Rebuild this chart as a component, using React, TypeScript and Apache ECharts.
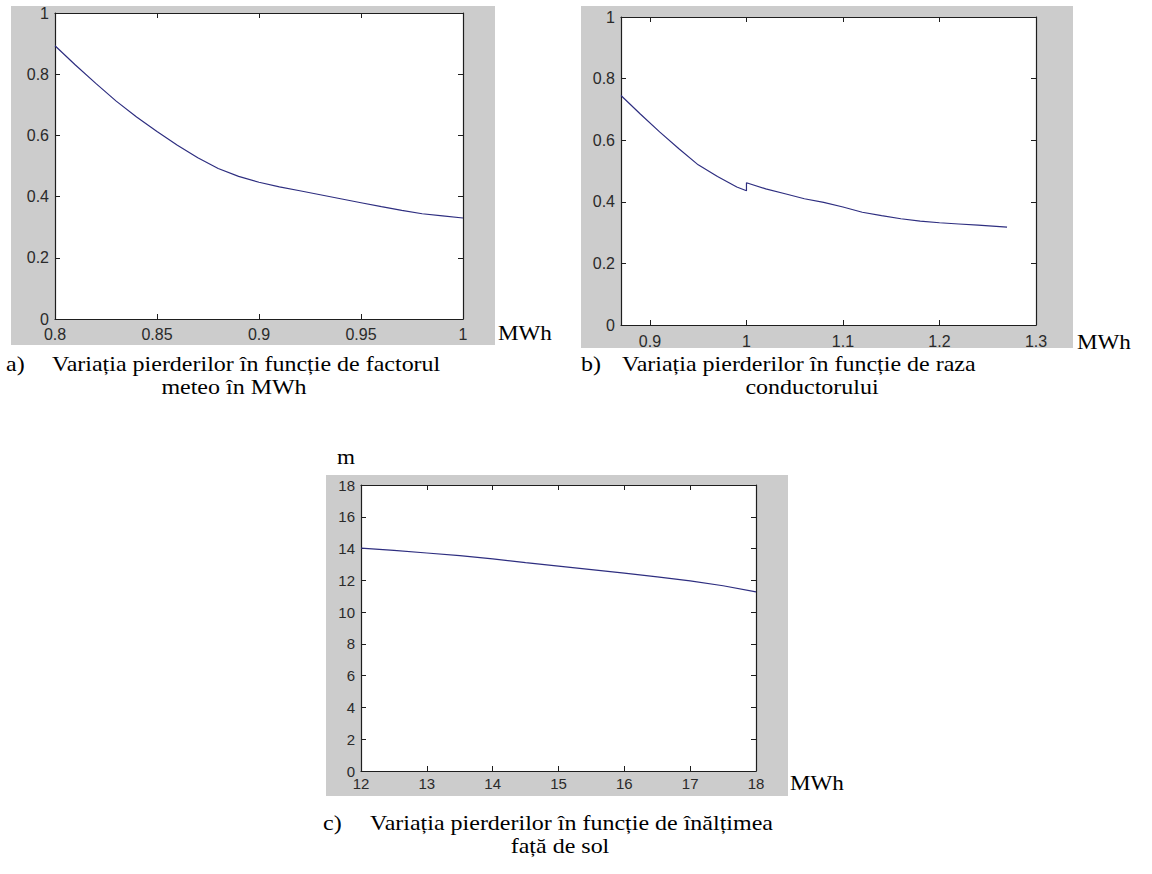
import React, { useEffect, useRef } from "react";
import * as echarts from "echarts";

// Panel a: losses vs meteo factor
const aX = [0.8, 0.81, 0.82, 0.83, 0.84, 0.85, 0.86, 0.87, 0.88, 0.89, 0.9, 0.91, 0.92, 0.93, 0.94, 0.95, 0.96, 0.97, 0.98, 0.99, 1.0];
const aY = [0.893, 0.83, 0.77, 0.712, 0.66, 0.613, 0.568, 0.527, 0.492, 0.466, 0.447, 0.432, 0.419, 0.406, 0.393, 0.38, 0.367, 0.355, 0.344, 0.337, 0.33];

// Panel b: losses vs conductor radius (note the step at 1.0)
const bX = [0.87, 0.89, 0.91, 0.93, 0.95, 0.97, 0.99, 1.0, 1.0, 1.02, 1.04, 1.06, 1.08, 1.1, 1.12, 1.14, 1.16, 1.18, 1.2, 1.22, 1.24, 1.27];
const bY = [0.745, 0.685, 0.627, 0.572, 0.52, 0.482, 0.448, 0.436, 0.462, 0.442, 0.426, 0.41, 0.398, 0.383, 0.366, 0.355, 0.345, 0.337, 0.332, 0.328, 0.324, 0.318];

// Panel c: losses vs height above ground
const cX = [12, 12.5, 13, 13.5, 14, 14.5, 15, 15.5, 16, 16.5, 17, 17.5, 18];
const cY = [14.03, 13.88, 13.72, 13.55, 13.35, 13.12, 12.9, 12.68, 12.45, 12.22, 11.97, 11.66, 11.27];

const bXTicks = [0.9, 1, 1.1, 1.2, 1.3];

const captionA1 = "Variația pierderilor în funcție de factorul";
const captionA2 = "meteo în MWh";
const captionB1 = "Variația pierderilor în funcție de raza";
const captionB2 = "conductorului";
const captionC1 = "Variația pierderilor în funcție de înălțimea";
const captionC2 = "față de sol";

const LINE = "#2e2e80";
const AXIS = "#1e1e1e";
const LABEL = "#2a2a2a";
const GRAY = "#cccccc";
const SERIF = "'Liberation Serif', 'Times New Roman', serif";
const SANS = "'Liberation Sans', Arial, sans-serif";

function pair(xs: number[], ys: number[]) {
  return xs.map((x, i) => [x, ys[i]]);
}

function xAxes(gridIndex: number, min: number, max: number, interval: number | undefined, fontSize: number, margin: number, custom?: number[]) {
  const tick: any = { inside: true, length: 5, lineStyle: { color: AXIS, width: 1 } };
  const label: any = { color: LABEL, fontSize, fontFamily: SANS, margin };
  if (custom) {
    tick.customValues = custom;
    label.customValues = custom;
  }
  const base: any = {
    type: "value",
    gridIndex,
    min,
    max,
    splitLine: { show: false },
    axisLine: { show: true, onZero: false, lineStyle: { color: AXIS, width: 1.2 } },
    axisTick: tick,
  };
  if (interval !== undefined) base.interval = interval;
  return [
    { ...base, position: "bottom", axisLabel: label },
    { ...base, position: "top", axisLabel: { show: false } },
  ];
}

function yAxes(gridIndex: number, min: number, max: number, interval: number, fontSize: number, margin: number) {
  const base: any = {
    type: "value",
    gridIndex,
    min,
    max,
    interval,
    splitLine: { show: false },
    axisLine: { show: true, onZero: false, lineStyle: { color: AXIS, width: 1.2 } },
    axisTick: { inside: true, length: 5, lineStyle: { color: AXIS, width: 1 } },
  };
  return [
    { ...base, position: "left", axisLabel: { color: LABEL, fontSize, fontFamily: SANS, margin } },
    { ...base, position: "right", axisLabel: { show: false } },
  ];
}

function txt(text: string, x: number, y: number, size: number, align: string = "left", sx: number = 1.2) {
  return {
    type: "text",
    x,
    y,
    scaleX: sx,
    z: 10,
    style: {
      text,
      fill: "#000",
      font: `${size}px ${SERIF}`,
      textAlign: align,
      textVerticalAlign: "middle",
    },
  };
}

export default function App() {
  const ref = useRef<HTMLDivElement>(null);
  useEffect(() => {
    document.body.style.margin = "0";
    document.body.style.overflow = "hidden";
    const chart = echarts.init(ref.current!, undefined, { renderer: "svg" });
    const option: any = {
      animation: false,
      backgroundColor: "#ffffff",
      grid: [
        { left: 55, top: 13, width: 408, height: 306, show: true, backgroundColor: "#fff", borderWidth: 0 },
        { left: 621, top: 17, width: 415, height: 308, show: true, backgroundColor: "#fff", borderWidth: 0 },
        { left: 361, top: 485, width: 395, height: 286, show: true, backgroundColor: "#fff", borderWidth: 0 },
      ],
      xAxis: [
        ...xAxes(0, 0.8, 1, 0.05, 16, 7),
        ...xAxes(1, 0.87, 1.3, undefined, 16, 8, bXTicks),
        ...xAxes(2, 12, 18, 1, 15, 5),
      ],
      yAxis: [
        ...yAxes(0, 0, 1, 0.2, 16, 6),
        ...yAxes(1, 0, 1, 0.2, 16, 6),
        ...yAxes(2, 0, 18, 2, 15, 6),
      ],
      series: [
        { type: "line", xAxisIndex: 0, yAxisIndex: 0, data: pair(aX, aY), showSymbol: false, symbol: "none", lineStyle: { color: LINE, width: 1.2 }, smooth: false },
        { type: "line", xAxisIndex: 2, yAxisIndex: 2, data: pair(bX, bY), showSymbol: false, symbol: "none", lineStyle: { color: LINE, width: 1.2 }, smooth: false },
        { type: "line", xAxisIndex: 4, yAxisIndex: 4, data: pair(cX, cY), showSymbol: false, symbol: "none", lineStyle: { color: LINE, width: 1.2 }, smooth: false },
      ],
      graphic: [
        { type: "rect", z: -10, shape: { x: 11, y: 6, width: 484, height: 339 }, style: { fill: GRAY } },
        { type: "rect", z: -10, shape: { x: 581, y: 6, width: 492, height: 342 }, style: { fill: GRAY } },
        { type: "rect", z: -10, shape: { x: 326, y: 475, width: 462, height: 321 }, style: { fill: GRAY } },
        txt("MWh", 498, 333, 21, "left", 1.1),
        txt("MWh", 1077, 342, 21, "left", 1.1),
        txt("MWh", 790, 783, 21, "left", 1.1),
        txt("m", 337, 457, 21, "left", 1.1),
        txt("a)", 6, 364, 20),
        txt(captionA1, 52, 364, 20),
        txt(captionA2, 234, 387, 20, "center"),
        txt("b)", 581, 364, 20),
        txt(captionB1, 622, 364, 20),
        txt(captionB2, 812, 387, 20, "center"),
        txt("c)", 323, 823, 20),
        txt(captionC1, 370, 823, 20),
        txt(captionC2, 560, 846, 20, "center"),
      ],
    };
    chart.setOption(option);
    return () => chart.dispose();
  }, []);
  return <div ref={ref} style={{ width: 1152, height: 874 }} />;
}
